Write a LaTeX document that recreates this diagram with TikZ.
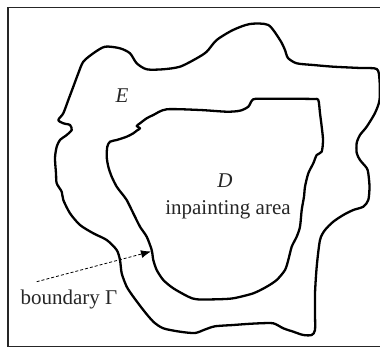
\documentclass[tikz,border=0pt]{standalone}
\usepackage{fontspec}
\setmainfont{Liberation Serif}
\usetikzlibrary{arrows.meta}
\begin{document}
\begin{tikzpicture}[x=1pt,y=-1pt,
  region/.style={line width=2.3pt, line join=round, smooth cycle, tension=0.45},
  frameline/.style={line width=1.5pt, draw=black!85},
  lbl/.style={inner sep=0pt, anchor=base, font=\fontsize{21}{25}\selectfont, text=black!85},
  guide/.style={line width=0.8pt, dash pattern=on 3pt off 2pt, -{Latex[length=10pt,width=8pt]}}]
\useasboundingbox (0,0) rectangle (380,355);
% frame (open on the right)
\draw[frameline] (381,7.5) -- (8,7.5) -- (8,346.5) -- (381,346.5);
% outer region E
\draw[region] plot coordinates {
 (146.7,69.3) (136.7,63.3) (130,53.3) (120,48.3) (105,46.7) (93.3,53.3) (83.3,61.7)
 (78.3,73.3) (73.3,86.7) (68.3,100) (63.3,113.3) (58.3,120) (63.3,123.3) (70,125)
 (71.7,130) (66.7,135) (60,140) (56.7,146.7) (55,158) (56,173.3) (56.7,183.3)
 (61.7,191.7) (63.3,200) (70,213.3) (80,225) (93.3,233.3) (106.7,240) (116.7,250)
 (120,260) (121.7,273.3) (126.7,286.7) (133.3,296.7) (143.3,310) (153.3,321.7)
 (163.3,328.3) (180,331.7) (195,333) (205,329.5) (215,326.3) (233.3,325) (246.7,324)
 (260,323.3) (273.3,323.3) (283.3,328.3) (293.3,331.7) (303.3,335) (311.7,335)
 (315,330) (315,313.3) (315,293.3) (316.7,266.7) (320,240) (325,230) (333.3,221.7)
 (343.3,215) (353.3,210) (363.3,206.7) (368.3,200) (369.5,186.7) (368.3,173.3)
 (366.7,168) (360,160) (356.7,153) (356.7,143) (360,135) (366.7,126.7) (375,113)
 (379.5,100) (379.5,80) (376.7,69) (360,68) (333.3,66.7) (313.3,65) (296.7,63.3)
 (288,58) (285,50) (280,40) (268.3,25) (250,24) (233,30) (216.7,40) (206.7,51.7)
 (196.7,58.3) (180,66.7) (163,69.3)
};
% inner region D
\draw[region] plot coordinates {
 (166.7,109.3) (200,110) (226.7,111.7) (240,110.7) (248.3,106.7) (253.3,99.3)
 (266.7,98.7) (286.7,98.7) (313.3,99) (318.3,100) (320,113.3) (321.7,126.7) (323,140)
 (321.7,151.7) (316.7,155) (313.3,163.3) (308.3,173.3) (305,186.7) (304,196.7)
 (301.7,210) (300,226.7) (296.7,236.7) (291.7,246.7) (288.3,260) (285,270)
 (276.7,280) (266.7,286.7) (253.3,293.3) (233.3,298.3) (216.7,299.3) (196.7,299.3)
 (188.3,296.7) (173.3,288.3) (163.3,280) (156.7,270) (153.3,260) (151.7,250)
 (146.7,236.7) (140,226.7) (133.3,213.3) (126.7,200) (121.7,193.3) (116.7,186.7)
 (111.7,176.7) (108.3,166.7) (106.7,156.7) (107.3,146.7) (110,141.7) (116.7,140)
 (126.7,136.7) (133.3,133.3) (136.7,130.7) (140,128.3) (136.7,126) (140,123.3)
 (146.7,118.3) (153.3,115)
};
% labels
\node[lbl] (labE) at (122,103) {\itshape E};
\node[lbl] (labD) at (225,188) {\itshape D};
\node[lbl] (labarea) at (228,215) {inpainting area};
\node[lbl] (labgamma) at (69,305) {boundary Γ};
% arrow pointing at the boundary
\coordinate (gstart) at (36.7,281.7);
\coordinate (gend) at (151,251.5);
\draw[guide] (gstart) -- (gend);
\end{tikzpicture}
\end{document}
